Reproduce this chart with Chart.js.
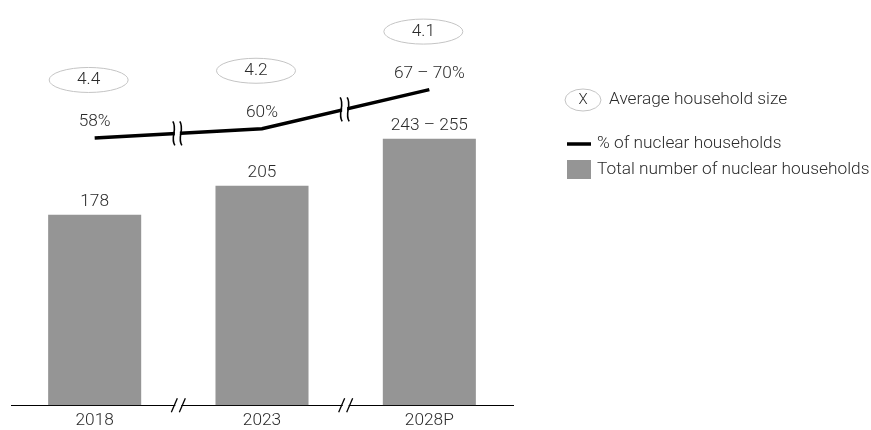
<!DOCTYPE html>
<html>
<head>
<meta charset="utf-8">
<script src="https://cdn.jsdelivr.net/npm/chart.js@4.4.1/dist/chart.umd.min.js"></script>
<style>
  html, body { margin: 0; padding: 0; background: #fff; }
  #wrap { width: 871px; height: 430px; }
</style>
</head>
<body>
<div id="wrap"><canvas id="c" width="871" height="430"></canvas></div>
<script>
// ---- data ----
const categories = ['2018', '2023', '2028P'];
const householdTotals = [178, 205, 249];
const householdTotalLabels = ['178', '205', '243 – 255'];
const nuclearShare = [58, 60, 68.5];
const nuclearShareLabels = ['58%', '60%', '67 – 70%'];
const avgHouseholdSize = [4.4, 4.2, 4.1];
const legendLabels = ['Average household size', '% of nuclear households', 'Total number of nuclear households'];

const FONT = 'Roboto, "Noto Sans", sans-serif';
const TEXT = '#2a2a2a';
const BAR = '#959595';
const FS = 17.3;

const annotations = {
  id: 'annotations',
  afterDatasetsDraw(chart) {
    const ctx = chart.ctx;
    const x = chart.scales.x;
    const barMeta = chart.getDatasetMeta(0);
    const lineMeta = chart.getDatasetMeta(1);
    const f = '300 ' + FS + 'px ' + FONT;
    ctx.save();
    ctx.textAlign = 'center';
    ctx.textBaseline = 'middle';
    ctx.fillStyle = TEXT;
    ctx.font = f;
    // bar labels
    barMeta.data.forEach((b, i) => {
      ctx.fillText(householdTotalLabels[i], b.x, b.y - 13);
    });
    // line labels + household size ellipses
    lineMeta.data.forEach((p, i) => {
      ctx.fillStyle = TEXT;
      ctx.font = f;
      ctx.fillText(nuclearShareLabels[i], p.x, p.y - 16);
      const ex = p.x - 6, ey = p.y - 58;
      ctx.beginPath();
      ctx.ellipse(ex, ey, 39.5, 12.5, 0, 0, Math.PI * 2);
      ctx.strokeStyle = '#c4c4c4';
      ctx.lineWidth = 1;
      ctx.stroke();
      ctx.fillText(avgHouseholdSize[i].toFixed(1), ex, ey);
    });
    // breaks on line and axis
    const pts = lineMeta.data;
    const axisY = chart.chartArea.bottom;
    for (let i = 0; i < pts.length - 1; i++) {
      const mx = (x.getPixelForValue(i) + x.getPixelForValue(i + 1)) / 2 - 1;
      const t = (mx - pts[i].x) / (pts[i + 1].x - pts[i].x);
      const my = pts[i].y + t * (pts[i + 1].y - pts[i].y);
      // line break
      ctx.fillStyle = '#fff';
      ctx.fillRect(mx - 2.5, my - 4, 5, 8);
      ctx.strokeStyle = '#000';
      ctx.lineWidth = 1.6;
      [-3.5, 3.5].forEach(dx => {
        const cx = mx + dx;
        ctx.beginPath();
        ctx.moveTo(cx - 1, my - 12);
        ctx.bezierCurveTo(cx + 4, my - 4, cx - 4, my + 4, cx + 1, my + 12);
        ctx.stroke();
      });
      // axis break
      const ax = mx + 1;
      ctx.fillStyle = '#fff';
      ctx.fillRect(ax - 3, axisY - 2, 6, 4);
      ctx.lineWidth = 1.3;
      [-4, 4].forEach(dx => {
        ctx.beginPath();
        ctx.moveTo(ax + dx - 3, axisY + 7);
        ctx.lineTo(ax + dx + 3, axisY - 7);
        ctx.stroke();
      });
    }
    // legend
    ctx.fillStyle = TEXT;
    ctx.beginPath();
    ctx.ellipse(583, 100, 18, 11, 0, 0, Math.PI * 2);
    ctx.strokeStyle = '#c4c4c4';
    ctx.lineWidth = 1;
    ctx.stroke();
    ctx.textAlign = 'center';
    ctx.font = '300 15px ' + FONT;
    ctx.fillText('X', 583, 100);
    ctx.textAlign = 'left';
    ctx.font = f;
    ctx.fillText(legendLabels[0], 609, 100);
    ctx.strokeStyle = '#000';
    ctx.lineWidth = 3.5;
    ctx.beginPath();
    ctx.moveTo(567, 144);
    ctx.lineTo(591, 144);
    ctx.stroke();
    ctx.fillText(legendLabels[1], 597, 144);
    ctx.fillStyle = BAR;
    ctx.fillRect(567, 160, 24, 19);
    ctx.fillStyle = TEXT;
    ctx.fillText(legendLabels[2], 597, 170);
    ctx.restore();
  }
};

new Chart(document.getElementById('c'), {
  data: {
    labels: categories,
    datasets: [
      {
        type: 'bar',
        data: householdTotals,
        backgroundColor: BAR,
        yAxisID: 'y',
        barPercentage: 0.556,
        categoryPercentage: 1,
        order: 2
      },
      {
        type: 'line',
        data: nuclearShare,
        borderColor: '#000',
        borderWidth: 3.5,
        pointRadius: 0,
        tension: 0,
        yAxisID: 'y2',
        order: 1
      }
    ]
  },
  options: {
    responsive: false,
    animation: false,
    layout: { padding: { left: 11, right: 358, top: 20, bottom: -6 } },
    plugins: { legend: { display: false }, tooltip: { enabled: false } },
    scales: {
      x: {
        offset: true,
        grid: { display: false, drawTicks: false },
        border: { display: true, color: '#000', width: 1 },
        ticks: { color: TEXT, font: { family: FONT, size: FS, weight: 300 }, padding: 5 }
      },
      y: { display: false, min: 0, max: 360 },
      y2: { display: false, min: 0, max: 83.6, position: 'right' }
    }
  },
  plugins: [annotations]
});
</script>
</body>
</html>
